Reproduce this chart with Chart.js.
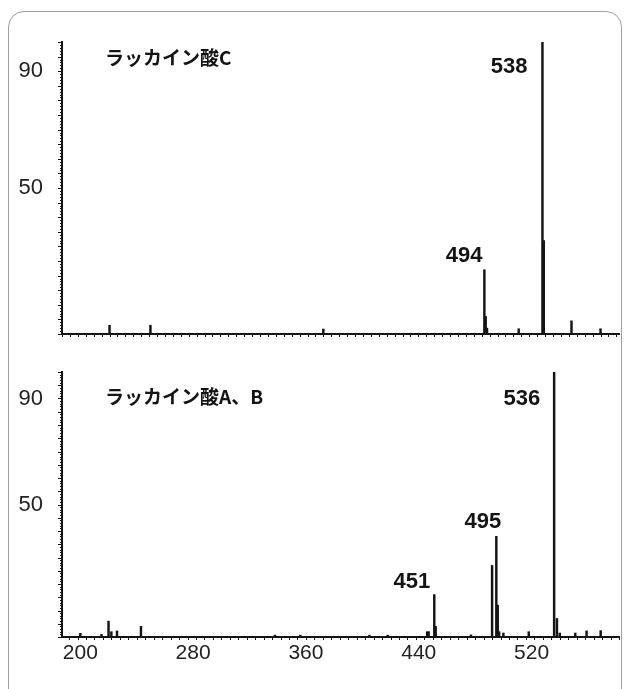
<!DOCTYPE html>
<html>
<head>
<meta charset="utf-8">
<script src="https://cdn.jsdelivr.net/npm/chart.js@4.4.1/dist/chart.umd.min.js"></script>
<style>
  html, body { margin: 0; padding: 0; background: #fff; }
  #wrap { position: relative; width: 626px; height: 689px; overflow: hidden; }
  #frame { position: absolute; left: 8px; top: 11px; width: 614px; height: 720px;
           border: 1.5px solid #a0a0a0; border-radius: 16px; box-sizing: border-box; }
  .pane { position: absolute; left: 0; width: 626px; }
</style>
</head>
<body>
<div id="wrap">
  <div id="frame"></div>
  <div class="pane" style="top:0;height:345px"><canvas id="specC" width="626" height="345"></canvas></div>
  <div class="pane" style="top:345px;height:344px"><canvas id="specAB" width="626" height="344"></canvas></div>
</div>
<script>
// Mass spectrum of laccaic acid C (m/z, relative intensity %)
const mzC  = [210, 241, 372, 494, 495, 496, 520, 538, 539, 560, 582];
const intC = [3, 3, 1.7, 22, 6, 2, 1.8, 100, 32, 4.5, 1.8];

// Mass spectrum of laccaic acids A and B
const mzAB  = [200, 215, 220, 222, 226, 243, 338, 356, 405, 418, 446, 447, 451, 452, 477,
               492, 495, 496, 497, 500, 518, 536, 538, 540, 551, 559, 569];
const intAB = [1.4, 1, 6, 2, 2.3, 4, 0.7, 0.7, 0.7, 0.7, 2, 2, 16, 4, 0.8,
               27, 38, 12, 2, 1.5, 2, 100, 7, 1.5, 1.5, 2.3, 2.4];

// Axis tick labels
const xTickLabels = [200, 280, 360, 440, 520];
const yTickLabels = [50, 90];

// Peaks that carry an m/z label
const labelledC  = [538, 494];
const labelledAB = [536, 495, 451];

const INK = '#141414';

// Draws the comb of small ticks on both axes, the panel title and the peak labels
const spectrumDecor = {
  id: 'spectrumDecor',
  afterDraw(chart, args, o) {
    const { ctx, chartArea: a, scales: { x, y } } = chart;
    ctx.save();
    ctx.strokeStyle = INK;
    ctx.lineWidth = 1;
    ctx.beginPath();
    for (let v = Math.ceil(x.min / o.xStep) * o.xStep; v <= x.max; v += o.xStep) {
      const px = Math.round(x.getPixelForValue(v)) + 0.5;
      ctx.moveTo(px, a.bottom);
      ctx.lineTo(px, a.bottom + 3);
    }
    for (let v = 0; v <= y.max; v += 1) {
      const py = Math.round(y.getPixelForValue(v)) + 0.5;
      const len = v % 5 === 0 ? 4 : 2;
      ctx.moveTo(a.left, py);
      ctx.lineTo(a.left - len, py);
    }
    ctx.stroke();

    // panel title
    ctx.fillStyle = INK;
    ctx.font = 'bold 19px "Noto Sans CJK JP", sans-serif';
    ctx.textAlign = 'left';
    ctx.textBaseline = 'middle';
    ctx.fillText(o.title, a.left + o.titleDx, a.top + o.titleDy);

    // m/z labels next to the main peaks
    ctx.font = 'bold 22px "Liberation Sans", Arial, sans-serif';
    ctx.textAlign = 'right';
    ctx.textBaseline = 'alphabetic';
    const ds = chart.data.datasets[0].data;
    o.peaks.forEach(mz => {
      const pt = ds.find(d => d.x === mz);
      const off = o.offsets[mz];
      const px = x.getPixelForValue(pt.x);
      const py = y.getPixelForValue(pt.y);
      ctx.fillText(String(pt.x), px + off[0], py + off[1]);
    });
    ctx.restore();
  }
};

function makeSpectrum(canvasId, mz, intensity, cfg) {
  return new Chart(document.getElementById(canvasId), {
    type: 'bar',
    data: {
      datasets: [{
        data: mz.map((m, i) => ({ x: m, y: intensity[i] })),
        backgroundColor: INK,
        borderWidth: 0,
        barThickness: 1.8,
        grouped: false
      }]
    },
    options: {
      responsive: false,
      animation: false,
      events: [],
      layout: { padding: { top: cfg.padTop, right: 7, left: 0, bottom: 0 } },
      plugins: {
        legend: { display: false },
        tooltip: { enabled: false },
        spectrumDecor: {
          xStep: 6,
          title: cfg.title, titleDx: 43, titleDy: cfg.titleDy,
          peaks: cfg.peaks, offsets: cfg.offsets
        }
      },
      scales: {
        x: {
          type: 'linear',
          offset: false,
          min: cfg.xMin,
          max: cfg.xMax,
          grid: { display: false, drawTicks: false, offset: false },
          border: { display: true, color: INK, width: 2 },
          afterBuildTicks: s => { s.ticks = xTickLabels.map(v => ({ value: v })); },
          afterFit: s => {
            s.height = cfg.xAxisHeight;
            s.paddingLeft = 0; s.paddingRight = 0;
          },
          ticks: {
            display: cfg.showXLabels,
            autoSkip: false,
            maxRotation: 0,
            padding: 4,
            color: '#222',
            font: { family: '"Liberation Sans", Arial, sans-serif', size: 21 }
          }
        },
        y: {
          type: 'linear',
          min: 0,
          max: 100,
          grid: { display: false, drawTicks: false },
          border: { display: true, color: INK, width: 2 },
          afterBuildTicks: s => { s.ticks = yTickLabels.map(v => ({ value: v })); },
          afterFit: s => {
            s.width = 62;
            s.paddingTop = 0; s.paddingBottom = 0;
          },
          ticks: {
            padding: 19,
            color: '#222',
            font: { family: '"Liberation Sans", Arial, sans-serif', size: 22 }
          }
        }
      }
    },
    plugins: [spectrumDecor]
  });
}

makeSpectrum('specC', mzC, intC, {
  title: 'ラッカイン酸C', titleDy: 16,
  xMin: 174, xMax: 596, padTop: 42, xAxisHeight: 11, showXLabels: false,
  peaks: labelledC,
  offsets: { 538: [-15, 31], 494: [-2, -8] }
});

makeSpectrum('specAB', mzAB, intAB, {
  title: 'ラッカイン酸A、B', titleDy: 25,
  xMin: 187, xMax: 582, padTop: 27, xAxisHeight: 52, showXLabels: true,
  peaks: labelledAB,
  offsets: { 536: [-14, 33], 495: [5, -8], 451: [-4, -7] }
});
</script>
</body>
</html>
